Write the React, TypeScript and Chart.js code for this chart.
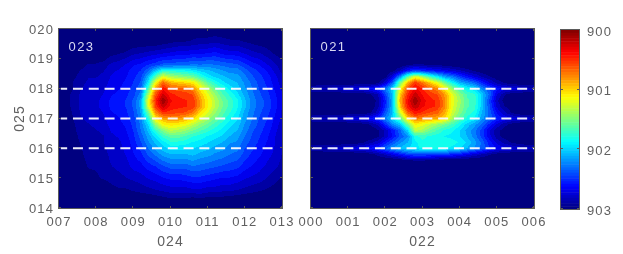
import React, { useEffect, useRef } from "react";
import { Chart, registerables } from "chart.js";
Chart.register(...registerables);

// Colour-scale positions in percent: 0 = 903 (bottom of colour bar), 100 = 900 (top)
const leftXs = [7,7.2,7.4,7.6,7.8,8,8.2,8.4,8.6,8.8,9,9.2,9.4,9.6,9.8,10,10.2,10.4,10.6,10.8,11,11.2,11.4,11.6,11.8,12,12.2,12.4,12.6,12.8,13];
const rightXs = [0,0.2,0.4,0.6,0.8,1,1.2,1.4,1.6,1.8,2,2.2,2.4,2.6,2.8,3,3.2,3.4,3.6,3.8,4,4.2,4.4,4.6,4.8,5,5.2,5.4,5.6,5.8,6];
const leftYs = [20,19.6,19.2,18.8,18.6,18.4,18.2,18,17.8,17.6,17.4,17.2,17,16.8,16.6,16.4,16.2,15.8,15.4,15,14.6,14.3,14];
const leftRows = [
[0,0,0,0,0,0,0,0,0,0,0,0,0,0,0,0,0,0,0,0,0,0,0,0,0,0,0,0,0,0,0],
[0,0,0,0,0,0,0,0,0,0,0,0,0,0,1,2,3,3,4,5,5,6,5,4,4,3,2,1,1,0,0],
[0,0,0,0,0,0,0,2,3,4,6,7,8,9,10,11,12,12,13,13,14,15,13,12,12,10,8,7,5,3,1],
[0,0,0,2,4,4,5,8,9,11,14,15,18,20,23,23,24,24,26,25,26,25,24,23,22,19,16,14,11,8,5],
[0,0,2,4,6,6,7,10,11,13,16,18,24,34,42,42,41,40,38,35,33,31,29,27,27,23,20,17,14,10,6],
[0,0,3,5,7,7,8,11,12,14,17,20,32,48,62,56,54,52,50,44,38,35,33,31,30,26,22,19,16,12,8],
[0,1,4,6,8,8,9,12,13,15,18,22,38,64,80,72,70,68,66,57,48,42,37,34,32,28,24,20,17,13,9],
[0,1,4,7,9,9,10,13,14,16,19,24,46,74,88,82,80,80,76,66,57,49,43,38,34,29,25,21,18,14,10],
[0,2,5,8,9,9,11,14,15,17,20,27,56,82,94,87,85,84,82,71,62,54,47,42,37,31,26,22,19,15,11],
[0,2,5,8,10,10,12,15,16,18,22,30,62,86,100,90,87,86,85,74,65,57,50,45,40,33,27,23,20,16,11],
[0,2,5,8,10,10,12,15,16,18,22,30,60,84,95,88,87,86,85,74,65,57,50,45,40,33,27,23,20,16,11],
[0,2,4,8,9,9,11,14,15,17,21,29,50,76,85,84,83,82,78,68,61,54,48,43,38,31,26,22,19,15,10],
[0,1,4,7,8,8,10,13,14,16,20,27,42,66,73,76,75,72,68,61,55,50,45,40,36,30,25,21,18,14,10],
[0,1,3,6,7,8,9,12,13,15,19,26,36,54,64,66,65,63,58,53,49,45,41,37,34,28,24,20,17,13,9],
[0,0,3,5,6,7,8,11,12,14,18,25,33,44,52,58,56,54,50,47,44,41,38,34,32,27,22,19,16,12,8],
[0,0,2,5,6,6,7,10,11,13,17,23,30,37,44,48,48,46,43,41,39,37,35,32,30,25,21,18,15,11,8],
[0,0,2,4,5,5,7,9,10,12,16,21,28,33,38,42,42,41,39,38,36,34,32,29,28,23,20,17,14,11,7],
[0,0,1,3,5,5,6,8,9,11,14,17,22,26,30,32,32,32,33,31,30,28,27,25,24,20,17,15,12,10,7],
[0,0,1,2,4,4,5,7,8,9,12,13,16,18,21,23,23,23,25,24,23,22,21,20,19,16,14,12,10,8,6],
[0,0,0,0,2,3,4,5,6,7,8,9,11,12,14,15,15,16,17,17,16,15,14,14,13,11,10,9,7,5,3],
[0,0,0,0,0,0,0,2,3,3,4,5,6,7,8,9,9,9,10,10,9,9,8,8,7,6,5,4,3,2,0],
[0,0,0,0,0,0,0,0,0,0,0,0,0,1,2,3,3,3,2,3,2,2,2,1,1,0,0,0,0,0,0],
[0,0,0,0,0,0,0,0,0,0,0,0,0,0,0,0,0,0,0,0,0,0,0,0,0,0,0,0,0,0,0],
];
const rightYs = [19,18.8,18.6,18.4,18.2,18,17.8,17.6,17.4,17.2,17,16.8,16.6,16.4,16.2,16,15.8,15.6,15.4];
const rightRows = [
[0,0,0,0,0,0,0,0,0,0,0,0,0,0,0,0,0,0,0,0,0,0,0,0,0,0,0,0,0,0,0],
[0,0,0,0,0,0,0,0,0,0,0,0,0,3,4,4,3,3,2,1,0,0,0,0,0,0,0,0,0,0,0],
[0,0,0,0,0,0,0,0,0,0,0,2,8,16,20,18,16,14,12,10,8,5,3,1,0,0,0,0,0,0,0],
[0,0,0,0,0,0,0,0,0,0,2,12,28,48,62,55,45,38,30,26,20,15,11,7,4,1,0,0,0,0,0],
[0,0,0,0,0,0,0,0,0,2,10,24,50,72,85,78,70,62,50,40,32,28,24,17,11,6,3,1,0,0,0],
[7,8,8,9,10,11,12,13,15,18,26,36,62,82,90,86,80,76,66,54,46,40,36,28,22,16,13,12,11,9,8],
[0,0,0,0,0,0,0,0,3,7,20,34,70,86,95,89,85,82,74,62,53,46,44,34,24,11,4,1,0,0,0],
[0,0,0,0,0,0,0,0,0,5,17,33,72,89,100,91,87,85,76,63,55,47,45,34,21,8,2,0,0,0,0],
[0,0,0,0,0,0,0,0,0,6,18,33,70,88,96,90,87,85,76,62,54,47,44,34,22,10,4,1,0,0,0],
[0,0,0,0,0,0,0,0,3,9,22,33,60,80,88,85,82,80,72,60,52,45,42,32,24,14,8,3,0,0,0],
[7,8,8,9,10,11,12,13,15,19,27,35,48,68,78,76,74,72,68,56,48,42,38,30,24,18,14,12,11,9,8],
[0,0,0,0,0,0,0,2,4,8,18,28,34,50,65,62,58,54,50,46,40,34,30,24,17,10,5,2,0,0,0],
[0,0,0,0,0,0,0,0,0,3,8,16,24,36,58,56,50,46,42,40,36,31,26,20,11,5,2,0,0,0,0],
[0,0,0,0,0,0,0,0,0,3,8,15,22,28,42,44,42,41,39,38,36,32,27,20,12,5,2,0,0,0,0],
[0,0,0,0,0,0,1,3,6,9,16,22,28,32,38,42,42,42,42,41,39,35,30,24,16,10,6,3,1,0,0],
[7,7,8,9,10,11,12,13,15,18,24,30,33,36,38,40,40,40,40,38,36,32,28,24,18,14,12,11,10,9,8],
[0,0,0,0,0,0,0,1,2,5,8,12,16,20,22,22,21,20,20,18,16,13,10,7,4,2,1,0,0,0,0],
[0,0,0,0,0,0,0,0,0,0,0,0,1,3,4,4,3,2,1,0,0,0,0,0,0,0,0,0,0,0,0],
[0,0,0,0,0,0,0,0,0,0,0,0,0,0,0,0,0,0,0,0,0,0,0,0,0,0,0,0,0,0,0],
];
const leftXTicks = ["007","008","009","010","011","012","013"];
const rightXTicks = ["000","001","002","003","004","005","006"];
const yTicks = ["014","015","016","017","018","019","020"];
const colorbarTicks = ["900","901","902","903"];
const dashedYs = [16,17,18];
const leftDashedX = [7.05,12.85];
const rightDashedX = [0.02,6];

const FONT = "'Liberation Sans'";
const TEXT = "#606060";
const BOX = "#5a5a5a";
const LEVELS = 28;

function jet(t: number): [number, number, number] {
  const c = (v: number) => Math.max(0, Math.min(1, v)) * 255;
  return [c(1.5 - Math.abs(4 * t - 3)), c(1.5 - Math.abs(4 * t - 2)), c(1.5 - Math.abs(4 * t - 1))];
}

function bracket(list: number[], v: number): [number, number, number] {
  for (let i = 0; i < list.length - 1; i++) {
    const a = list[i], b = list[i + 1];
    if ((v >= a && v <= b) || (v <= a && v >= b)) return [i, i + 1, (v - a) / (b - a)];
  }
  const last = list.length - 1;
  return Math.abs(v - list[0]) < Math.abs(v - list[last]) ? [0, 0, 0] : [last, last, 0];
}

function sample(xs: number[], ys: number[], rows: number[][], x: number, y: number) {
  if (y > Math.max(...ys) || y < Math.min(...ys)) return 0;
  const [x0, x1, fx] = bracket(xs, x);
  const [y0, y1, fy] = bracket(ys, y);
  const a = rows[y0][x0] * (1 - fx) + rows[y0][x1] * fx;
  const b = rows[y1][x0] * (1 - fx) + rows[y1][x1] * fx;
  return a * (1 - fy) + b * fy;
}

const spacing = (px: string) => ({
  id: "spacing",
  beforeDraw(chart: any) { chart.ctx.letterSpacing = px; },
});

const frame = {
  id: "frame",
  afterDraw(chart: any) {
    const { ctx, chartArea: a, scales } = chart;
    ctx.save();
    ctx.strokeStyle = BOX;
    ctx.lineWidth = 1;
    ctx.strokeRect(a.left - 0.5, a.top - 0.5, a.right - a.left + 1, a.bottom - a.top + 1);
    if (scales.x.options.display !== false) {
      scales.x.ticks.forEach((t: any) => {
        const p = Math.round(scales.x.getPixelForValue(t.value)) - 0.5;
        ctx.beginPath(); ctx.moveTo(p, a.bottom); ctx.lineTo(p, a.bottom - 2); ctx.moveTo(p, a.top); ctx.lineTo(p, a.top + 2); ctx.stroke();
      });
    }
    const sy = scales.y;
    sy.ticks.forEach((t: any) => {
      const p = Math.round(sy.getPixelForValue(t.value)) - 0.5;
      ctx.beginPath(); ctx.moveTo(a.left, p); ctx.lineTo(a.left + 2, p); ctx.moveTo(a.right, p); ctx.lineTo(a.right - 2, p); ctx.stroke();
    });
    ctx.restore();
  },
};

function heat(xs: number[], ys: number[], rows: number[][], name: string) {
  return {
    id: "heat",
    beforeDatasetsDraw(chart: any) {
      const { ctx, chartArea: a, scales } = chart;
      const w = Math.round(a.right - a.left), h = Math.round(a.bottom - a.top);
      const off = document.createElement("canvas");
      off.width = w; off.height = h;
      const oc = off.getContext("2d")!;
      const img = oc.createImageData(w, h);
      for (let j = 0; j < h; j++) {
        const yv = scales.y.getValueForPixel(a.top + j + 0.5);
        for (let i = 0; i < w; i++) {
          const xv = scales.x.getValueForPixel(a.left + i + 0.5);
          const v = sample(xs, ys, rows, xv, yv) / 100;
          const [r, g, b] = jet(Math.min(1, Math.floor(v * LEVELS) / LEVELS));
          const k = (j * w + i) * 4;
          img.data[k] = r; img.data[k + 1] = g; img.data[k + 2] = b; img.data[k + 3] = 255;
        }
      }
      oc.putImageData(img, 0, 0);
      ctx.save();
      ctx.beginPath(); ctx.rect(a.left, a.top, w, h); ctx.clip();
      ctx.fillStyle = "rgb(0,0,128)";
      ctx.fillRect(a.left, a.top, w, h);
      ctx.filter = "blur(0.6px)";
      ctx.drawImage(off, a.left, a.top);
      ctx.restore();
    },
    afterDraw(chart: any) {
      const { ctx, chartArea: a } = chart;
      ctx.save();
      ctx.letterSpacing = "1.4px";
      ctx.font = `13px ${FONT}`;
      ctx.fillStyle = "#d9d9f2";
      ctx.textBaseline = "alphabetic";
      ctx.textAlign = "left";
      ctx.fillText(name, a.left + 9.5, a.top + 22);
      ctx.restore();
    },
  };
}

function panelConfig(opts: {
  xs: number[]; ys: number[]; rows: number[][]; name: string; xTicks: string[]; xTitle: string;
  yTitle?: string; dashX: number[]; dashOffset: number; xMin: number; xMax: number; leftMargin: number; rightMargin: number; showY: boolean;
}): any {
  const cells: any[] = [];
  opts.ys.forEach((y, r) => opts.xs.forEach((x, c) => cells.push({ x, y, v: opts.rows[r][c] })));
  return {
    type: "scatter",
    data: {
      datasets: [
        { label: "cells", data: cells, pointRadius: 0, showLine: false },
        ...dashedYs.map((y) => ({
          label: String(y),
          data: opts.dashX.map((x) => ({ x, y })),
          showLine: true,
          pointRadius: 0,
          borderColor: "rgba(250,250,255,0.95)",
          borderWidth: 2,
          borderDash: [10, 5.8],
          borderDashOffset: opts.dashOffset,
        })),
      ],
    },
    options: {
      animation: false,
      responsive: false,
      clip: false,
      layout: { padding: { top: 29, right: opts.rightMargin, left: 0, bottom: 0 } },
      plugins: { legend: { display: false }, tooltip: { enabled: false } },
      scales: {
        x: {
          type: "linear", min: opts.xMin, max: opts.xMax,
          afterFit: (s: any) => { s.height = 46; },
          grid: { display: false, drawTicks: false }, border: { display: false },
          ticks: {
            stepSize: 1, autoSkip: false, maxRotation: 0, minRotation: 0, padding: 7,
            color: TEXT, font: { family: FONT, size: 13 },
            callback: (_: any, i: number) => opts.xTicks[i],
          },
          title: { display: true, text: opts.xTitle, color: TEXT, font: { family: FONT, size: 14 }, padding: { top: 0, bottom: 3 } },
        },
        y: {
          type: "linear", min: 14, max: 20,
          afterFit: (s: any) => { s.width = opts.leftMargin; },
          grid: { display: false, drawTicks: false }, border: { display: false },
          ticks: {
            display: opts.showY, stepSize: 1, autoSkip: false, padding: 5, labelOffset: 1,
            color: TEXT, font: { family: FONT, size: 13 },
            callback: (_: any, i: number) => yTicks[i],
          },
          title: opts.yTitle
            ? { display: true, text: opts.yTitle, color: TEXT, font: { family: FONT, size: 14 }, padding: { top: 11.6, bottom: 0 } }
            : { display: false },
        },
      },
    },
    plugins: [spacing("1.1px"), heat(opts.xs, opts.ys, opts.rows, opts.name), frame],
  };
}

const colorbarBands = {
  id: "bands",
  beforeDatasetsDraw(chart: any) {
    const { ctx, chartArea: a, scales } = chart;
    chart.data.datasets[0].data.forEach((pt: any) => {
      const y0 = scales.y.getPixelForValue(pt.y);
      const y1 = scales.y.getPixelForValue(pt.y + pt.h);
      const [r, g, b] = jet((903 - pt.y - pt.h / 2) / 3);
      ctx.fillStyle = `rgb(${r},${g},${b})`;
      ctx.fillRect(a.left, y0, a.right - a.left, y1 - y0 + 0.5);
    });
  },
};

function colorbarConfig(): any {
  const bands: any[] = [];
  for (let i = 0; i < 64; i++) bands.push({ x: 0.5, y: 900 + (i * 3) / 64, h: 3 / 64 });
  return {
    type: "scatter",
    data: { datasets: [{ label: "colour bar", data: bands, pointRadius: 0 }] },
    options: {
      animation: false,
      responsive: false,
      layout: { padding: { top: 30, left: 9, right: 0, bottom: 45 } },
      plugins: { legend: { display: false }, tooltip: { enabled: false } },
      scales: {
        x: { type: "linear", min: 0, max: 1, display: false },
        y: {
          type: "linear", position: "right", min: 900, max: 903, reverse: true,
          afterFit: (s: any) => { s.width = 44; },
          grid: { display: false, drawTicks: false }, border: { display: false },
          ticks: {
            stepSize: 1, padding: 8, labelOffset: 2, color: TEXT, font: { family: FONT, size: 13 },
            callback: (v: number) => colorbarTicks[Math.round(v - 900)],
          },
        },
      },
    },
    plugins: [spacing("1.1px"), colorbarBands, frame],
  };
}

export default function App() {
  const a = useRef<HTMLCanvasElement>(null);
  const b = useRef<HTMLCanvasElement>(null);
  const c = useRef<HTMLCanvasElement>(null);
  useEffect(() => {
    const charts = [
      new Chart(a.current!, panelConfig({
        xs: leftXs, ys: leftYs, rows: leftRows, name: "023", xTicks: leftXTicks, xTitle: "024", yTitle: "025",
        dashX: leftDashedX, dashOffset: 3.7, xMin: 7, xMax: 13, leftMargin: 59, rightMargin: 18, showY: true,
      })),
      new Chart(b.current!, panelConfig({
        xs: rightXs, ys: rightYs, rows: rightRows, name: "021", xTicks: rightXTicks, xTitle: "022",
        dashX: rightDashedX, dashOffset: 0, xMin: 0, xMax: 6, leftMargin: 21, rightMargin: 28, showY: false,
      })),
      new Chart(c.current!, colorbarConfig()),
    ];
    return () => charts.forEach((ch) => ch.destroy());
  }, []);
  const st = (left: number): React.CSSProperties => ({ position: "fixed", left, top: 0, display: "block" });
  return (
    <div style={{ position: "fixed", left: 0, top: 0, width: 623, height: 254, background: "#fff" }}>
      <canvas ref={a} width={300} height={254} style={st(0)} />
      <canvas ref={b} width={272} height={254} style={st(290)} />
      <canvas ref={c} width={71} height={254} style={st(552)} />
    </div>
  );
}
